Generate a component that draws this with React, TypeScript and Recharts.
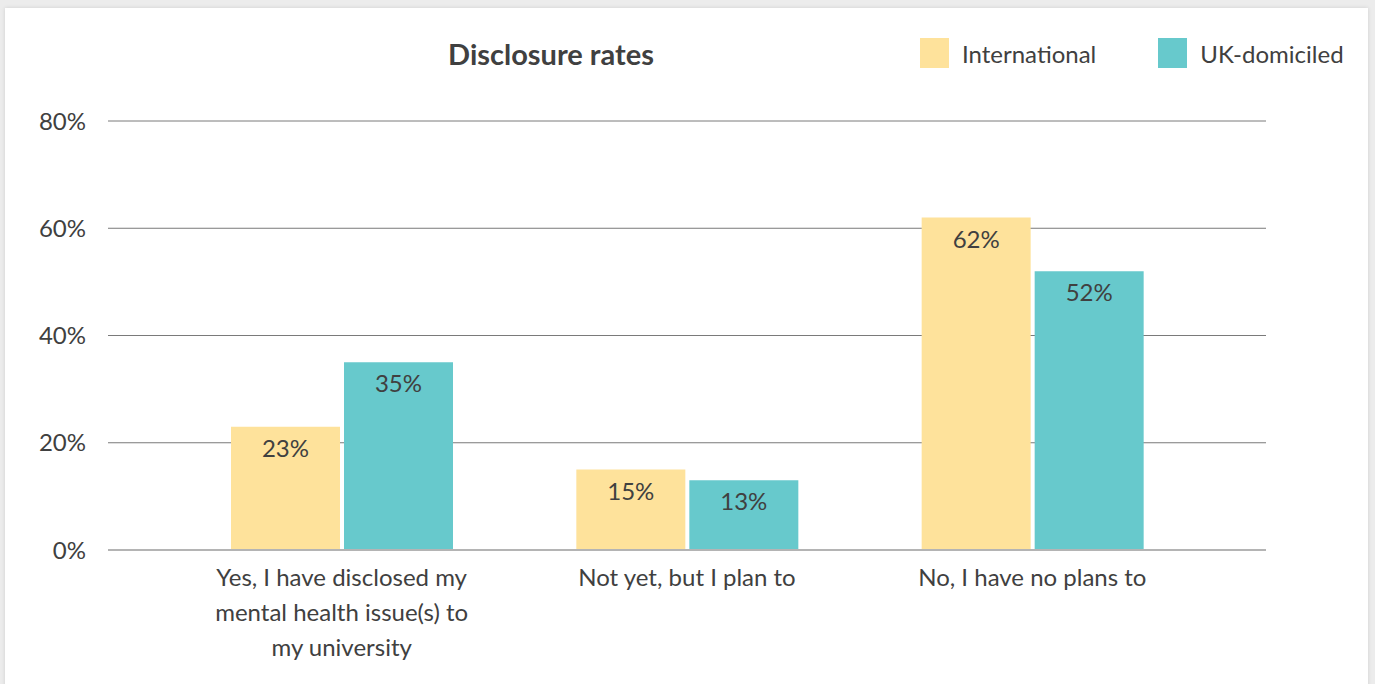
import { Bar, BarChart, CartesianGrid, LabelList, XAxis, YAxis } from 'recharts'

const categories = [
  'Yes, I have disclosed my\nmental health issue(s) to\nmy university',
  'Not yet, but I plan to',
  'No, I have no plans to',
]
const international = [23, 15, 62]
const ukDomiciled = [35, 13, 52]
const yTicks = [0, 20, 40, 60, 80]
const seriesNames = ['International', 'UK-domiciled']
const seriesColors = ['#fee29b', '#67c9cc']

const FONT = 'Lato, "Open Sans", sans-serif'
const TEXT = '#404040'
const FS = 24

const chartData = categories.map((name, i) => ({
  name,
  international: international[i],
  uk: ukDomiciled[i],
}))

function CategoryTick(props: any) {
  const { x, y, payload } = props
  const lines = String(payload.value).split('\n')
  return (
    <text x={x} y={y} textAnchor="middle" fontSize={FS} fontFamily={FONT} fill={TEXT}>
      {lines.map((line, i) => (
        <tspan key={i} x={x} dy={i === 0 ? '0.71em' : 35}>
          {line}
        </tspan>
      ))}
    </text>
  )
}

export default function App() {
  return (
    <div style={{ position: 'fixed', left: 0, top: 0, width: 1375, height: 684, background: '#ececec', overflow: 'hidden' }}>
      <div style={{ position: 'absolute', left: 5, top: 8, width: 1363, height: 690, background: '#fff', boxShadow: '0 0 4px rgba(0,0,0,0.12)' }} />
      <div
        style={{
          position: 'absolute',
          left: 351,
          width: 400,
          top: 36,
          textAlign: 'center',
          fontFamily: FONT,
          fontWeight: 700,
          fontSize: 29,
          color: TEXT,
        }}
      >
        Disclosure rates
      </div>
      <div style={{ position: 'absolute', left: 920, top: 38, display: 'flex', alignItems: 'center' }}>
        {seriesNames.map((name, i) => (
          <div key={name} style={{ display: 'flex', alignItems: 'center', marginRight: i === 0 ? 62 : 0 }}>
            <span style={{ width: 29, height: 30, background: seriesColors[i], display: 'inline-block', marginRight: 13 }} />
            <span style={{ fontFamily: FONT, fontSize: FS, color: TEXT }}>{name}</span>
          </div>
        ))}
      </div>
      <div style={{ position: 'absolute', left: 0, top: 0 }}>
        <BarChart
          width={1375}
          height={684}
          data={chartData}
          margin={{ top: 121, right: 109, bottom: 0, left: 0 }}
          barGap={4}
          barSize={109}
        >
          <CartesianGrid vertical={false} stroke="#7a7a7a" strokeWidth={1} />
          <XAxis
            dataKey="name"
            height={134}
            interval={0}
            padding={{ left: 61, right: 61 }}
            axisLine={{ stroke: '#b4b4b4', strokeWidth: 2 }}
            tickLine={false}
            tickSize={0}
            tickMargin={19}
            tick={<CategoryTick />}
          />
          <YAxis
            width={108}
            domain={[0, 80]}
            ticks={yTicks}
            tickFormatter={(v: number) => `${v}%`}
            axisLine={false}
            tickLine={false}
            tickSize={0}
            tickMargin={22}
            tick={{ fontSize: FS, fontFamily: FONT, fill: TEXT }}
          />
          <Bar dataKey="international" name={seriesNames[0]} fill={seriesColors[0]} isAnimationActive={false}>
            <LabelList
              dataKey="international"
              position="insideTop"
              offset={13}
              formatter={(v: number) => `${v}%`}
              style={{ fontSize: FS, fontFamily: FONT, fill: TEXT }}
            />
          </Bar>
          <Bar dataKey="uk" name={seriesNames[1]} fill={seriesColors[1]} isAnimationActive={false}>
            <LabelList
              dataKey="uk"
              position="insideTop"
              offset={13}
              formatter={(v: number) => `${v}%`}
              style={{ fontSize: FS, fontFamily: FONT, fill: TEXT }}
            />
          </Bar>
        </BarChart>
      </div>
    </div>
  )
}
